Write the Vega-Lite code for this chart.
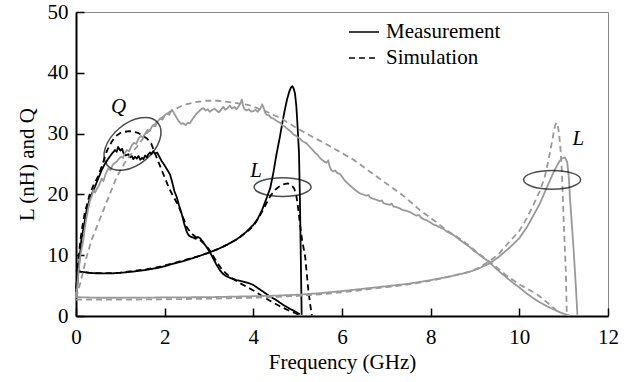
{
  "$schema": "https://vega.github.io/schema/vega-lite/v6.json",
  "autosize": "none",
  "padding": {"left": 76, "top": 12, "right": 33, "bottom": 66},
  "width": 532,
  "height": 304,
  "background": "white",
  "config": {
    "font": "Liberation Serif",
    "view": {"stroke": "#888888", "strokeWidth": 1},
    "axis": {
      "grid": false,
      "domainColor": "black",
      "domainWidth": 2,
      "tickColor": "black",
      "tickWidth": 1.5,
      "tickSize": -8,
      "labelFlush": false,
      "labelFont": "Liberation Serif",
      "labelFontSize": 21,
      "labelColor": "black",
      "titleFont": "Liberation Serif",
      "titleFontSize": 21,
      "titleFontWeight": "normal",
      "titleColor": "black"
    }
  },
  "datasets": {
    "curves": [
      {"c":"BQm","t":"Measurement","f":0.0,"v":4.0},
      {"c":"BQm","t":"Measurement","f":0.03,"v":5.0},
      {"c":"BQm","t":"Measurement","f":0.06,"v":8.0},
      {"c":"BQm","t":"Measurement","f":0.09,"v":10.0},
      {"c":"BQm","t":"Measurement","f":0.12,"v":12.5},
      {"c":"BQm","t":"Measurement","f":0.17,"v":14.5},
      {"c":"BQm","t":"Measurement","f":0.24,"v":17.4},
      {"c":"BQm","t":"Measurement","f":0.3,"v":19.0},
      {"c":"BQm","t":"Measurement","f":0.35,"v":20.0},
      {"c":"BQm","t":"Measurement","f":0.43,"v":21.3},
      {"c":"BQm","t":"Measurement","f":0.5,"v":22.6},
      {"c":"BQm","t":"Measurement","f":0.58,"v":24.0},
      {"c":"BQm","t":"Measurement","f":0.65,"v":25.0},
      {"c":"BQm","t":"Measurement","f":0.73,"v":25.9},
      {"c":"BQm","t":"Measurement","f":0.8,"v":26.6},
      {"c":"BQm","t":"Measurement","f":0.88,"v":27.3},
      {"c":"BQm","t":"Measurement","f":0.92,"v":27.0},
      {"c":"BQm","t":"Measurement","f":0.95,"v":27.8},
      {"c":"BQm","t":"Measurement","f":1.0,"v":27.2},
      {"c":"BQm","t":"Measurement","f":1.04,"v":27.5},
      {"c":"BQm","t":"Measurement","f":1.07,"v":26.8},
      {"c":"BQm","t":"Measurement","f":1.12,"v":26.4},
      {"c":"BQm","t":"Measurement","f":1.18,"v":26.6},
      {"c":"BQm","t":"Measurement","f":1.22,"v":26.1},
      {"c":"BQm","t":"Measurement","f":1.26,"v":26.3},
      {"c":"BQm","t":"Measurement","f":1.29,"v":25.8},
      {"c":"BQm","t":"Measurement","f":1.33,"v":26.2},
      {"c":"BQm","t":"Measurement","f":1.37,"v":25.9},
      {"c":"BQm","t":"Measurement","f":1.41,"v":26.3},
      {"c":"BQm","t":"Measurement","f":1.45,"v":25.7},
      {"c":"BQm","t":"Measurement","f":1.49,"v":26.0},
      {"c":"BQm","t":"Measurement","f":1.52,"v":25.8},
      {"c":"BQm","t":"Measurement","f":1.56,"v":26.4},
      {"c":"BQm","t":"Measurement","f":1.6,"v":26.1},
      {"c":"BQm","t":"Measurement","f":1.63,"v":26.6},
      {"c":"BQm","t":"Measurement","f":1.67,"v":26.9},
      {"c":"BQm","t":"Measurement","f":1.7,"v":26.6},
      {"c":"BQm","t":"Measurement","f":1.74,"v":27.1},
      {"c":"BQm","t":"Measurement","f":1.78,"v":26.7},
      {"c":"BQm","t":"Measurement","f":1.83,"v":26.9},
      {"c":"BQm","t":"Measurement","f":1.88,"v":26.2},
      {"c":"BQm","t":"Measurement","f":1.93,"v":25.5},
      {"c":"BQm","t":"Measurement","f":1.97,"v":25.1},
      {"c":"BQm","t":"Measurement","f":2.02,"v":24.5},
      {"c":"BQm","t":"Measurement","f":2.07,"v":23.9},
      {"c":"BQm","t":"Measurement","f":2.12,"v":23.3},
      {"c":"BQm","t":"Measurement","f":2.17,"v":22.0},
      {"c":"BQm","t":"Measurement","f":2.22,"v":20.5},
      {"c":"BQm","t":"Measurement","f":2.27,"v":19.6},
      {"c":"BQm","t":"Measurement","f":2.32,"v":18.3},
      {"c":"BQm","t":"Measurement","f":2.38,"v":16.9},
      {"c":"BQm","t":"Measurement","f":2.44,"v":15.2},
      {"c":"BQm","t":"Measurement","f":2.5,"v":13.8},
      {"c":"BQm","t":"Measurement","f":2.55,"v":13.2},
      {"c":"BQm","t":"Measurement","f":2.6,"v":13.0},
      {"c":"BQm","t":"Measurement","f":2.65,"v":12.9},
      {"c":"BQm","t":"Measurement","f":2.7,"v":12.7},
      {"c":"BQm","t":"Measurement","f":2.75,"v":13.0},
      {"c":"BQm","t":"Measurement","f":2.8,"v":12.8},
      {"c":"BQm","t":"Measurement","f":2.85,"v":12.3},
      {"c":"BQm","t":"Measurement","f":2.9,"v":11.8},
      {"c":"BQm","t":"Measurement","f":2.95,"v":11.3},
      {"c":"BQm","t":"Measurement","f":3.02,"v":10.5},
      {"c":"BQm","t":"Measurement","f":3.1,"v":9.4},
      {"c":"BQm","t":"Measurement","f":3.17,"v":8.4},
      {"c":"BQm","t":"Measurement","f":3.25,"v":7.5},
      {"c":"BQm","t":"Measurement","f":3.32,"v":6.9},
      {"c":"BQm","t":"Measurement","f":3.4,"v":6.5},
      {"c":"BQm","t":"Measurement","f":3.5,"v":6.2},
      {"c":"BQm","t":"Measurement","f":3.62,"v":5.9},
      {"c":"BQm","t":"Measurement","f":3.75,"v":5.7},
      {"c":"BQm","t":"Measurement","f":3.9,"v":5.4},
      {"c":"BQm","t":"Measurement","f":4.0,"v":5.1},
      {"c":"BQm","t":"Measurement","f":4.1,"v":4.6},
      {"c":"BQm","t":"Measurement","f":4.2,"v":4.1},
      {"c":"BQm","t":"Measurement","f":4.3,"v":3.6},
      {"c":"BQm","t":"Measurement","f":4.4,"v":3.1},
      {"c":"BQm","t":"Measurement","f":4.5,"v":2.7},
      {"c":"BQm","t":"Measurement","f":4.6,"v":2.2},
      {"c":"BQm","t":"Measurement","f":4.7,"v":1.7},
      {"c":"BQm","t":"Measurement","f":4.8,"v":1.3},
      {"c":"BQm","t":"Measurement","f":4.9,"v":0.9},
      {"c":"BQm","t":"Measurement","f":5.0,"v":0.5},
      {"c":"BQm","t":"Measurement","f":5.05,"v":0.3},

      {"c":"BQs","t":"Simulation","f":0.0,"v":4.5},
      {"c":"BQs","t":"Simulation","f":0.05,"v":9.0},
      {"c":"BQs","t":"Simulation","f":0.1,"v":12.5},
      {"c":"BQs","t":"Simulation","f":0.15,"v":15.0},
      {"c":"BQs","t":"Simulation","f":0.2,"v":17.0},
      {"c":"BQs","t":"Simulation","f":0.3,"v":19.8},
      {"c":"BQs","t":"Simulation","f":0.4,"v":21.6},
      {"c":"BQs","t":"Simulation","f":0.5,"v":23.0},
      {"c":"BQs","t":"Simulation","f":0.6,"v":25.0},
      {"c":"BQs","t":"Simulation","f":0.7,"v":27.2},
      {"c":"BQs","t":"Simulation","f":0.8,"v":28.6},
      {"c":"BQs","t":"Simulation","f":0.9,"v":29.6},
      {"c":"BQs","t":"Simulation","f":1.0,"v":30.1},
      {"c":"BQs","t":"Simulation","f":1.1,"v":30.3},
      {"c":"BQs","t":"Simulation","f":1.2,"v":30.4},
      {"c":"BQs","t":"Simulation","f":1.3,"v":30.3},
      {"c":"BQs","t":"Simulation","f":1.4,"v":30.1},
      {"c":"BQs","t":"Simulation","f":1.5,"v":29.7},
      {"c":"BQs","t":"Simulation","f":1.6,"v":29.2},
      {"c":"BQs","t":"Simulation","f":1.7,"v":28.3},
      {"c":"BQs","t":"Simulation","f":1.8,"v":26.4},
      {"c":"BQs","t":"Simulation","f":1.9,"v":24.6},
      {"c":"BQs","t":"Simulation","f":2.0,"v":22.8},
      {"c":"BQs","t":"Simulation","f":2.1,"v":21.0},
      {"c":"BQs","t":"Simulation","f":2.2,"v":19.6},
      {"c":"BQs","t":"Simulation","f":2.3,"v":18.3},
      {"c":"BQs","t":"Simulation","f":2.4,"v":16.5},
      {"c":"BQs","t":"Simulation","f":2.5,"v":14.6},
      {"c":"BQs","t":"Simulation","f":2.6,"v":13.6},
      {"c":"BQs","t":"Simulation","f":2.7,"v":13.0},
      {"c":"BQs","t":"Simulation","f":2.8,"v":12.5},
      {"c":"BQs","t":"Simulation","f":2.9,"v":11.8},
      {"c":"BQs","t":"Simulation","f":3.0,"v":11.0},
      {"c":"BQs","t":"Simulation","f":3.1,"v":9.8},
      {"c":"BQs","t":"Simulation","f":3.2,"v":8.6},
      {"c":"BQs","t":"Simulation","f":3.3,"v":7.6},
      {"c":"BQs","t":"Simulation","f":3.4,"v":6.9},
      {"c":"BQs","t":"Simulation","f":3.5,"v":6.3},
      {"c":"BQs","t":"Simulation","f":3.7,"v":5.4},
      {"c":"BQs","t":"Simulation","f":3.85,"v":4.8},
      {"c":"BQs","t":"Simulation","f":4.0,"v":4.2},
      {"c":"BQs","t":"Simulation","f":4.2,"v":3.3},
      {"c":"BQs","t":"Simulation","f":4.4,"v":2.4},
      {"c":"BQs","t":"Simulation","f":4.6,"v":1.6},
      {"c":"BQs","t":"Simulation","f":4.8,"v":0.9},
      {"c":"BQs","t":"Simulation","f":5.0,"v":0.3},
      {"c":"BQs","t":"Simulation","f":5.05,"v":0.2},

      {"c":"BLm","t":"Measurement","f":0.0,"v":7.6},
      {"c":"BLm","t":"Measurement","f":0.1,"v":7.3},
      {"c":"BLm","t":"Measurement","f":0.3,"v":7.1},
      {"c":"BLm","t":"Measurement","f":0.5,"v":7.0},
      {"c":"BLm","t":"Measurement","f":0.77,"v":7.0},
      {"c":"BLm","t":"Measurement","f":1.0,"v":7.1},
      {"c":"BLm","t":"Measurement","f":1.29,"v":7.3},
      {"c":"BLm","t":"Measurement","f":1.6,"v":7.6},
      {"c":"BLm","t":"Measurement","f":1.9,"v":8.0},
      {"c":"BLm","t":"Measurement","f":2.2,"v":8.6},
      {"c":"BLm","t":"Measurement","f":2.5,"v":9.2},
      {"c":"BLm","t":"Measurement","f":2.75,"v":9.8},
      {"c":"BLm","t":"Measurement","f":2.95,"v":10.3},
      {"c":"BLm","t":"Measurement","f":3.2,"v":11.0},
      {"c":"BLm","t":"Measurement","f":3.4,"v":11.7},
      {"c":"BLm","t":"Measurement","f":3.6,"v":12.5},
      {"c":"BLm","t":"Measurement","f":3.7,"v":13.0},
      {"c":"BLm","t":"Measurement","f":3.85,"v":13.9},
      {"c":"BLm","t":"Measurement","f":4.0,"v":15.0},
      {"c":"BLm","t":"Measurement","f":4.1,"v":16.0},
      {"c":"BLm","t":"Measurement","f":4.2,"v":17.5},
      {"c":"BLm","t":"Measurement","f":4.3,"v":19.4},
      {"c":"BLm","t":"Measurement","f":4.38,"v":21.0},
      {"c":"BLm","t":"Measurement","f":4.45,"v":23.5},
      {"c":"BLm","t":"Measurement","f":4.52,"v":26.5},
      {"c":"BLm","t":"Measurement","f":4.6,"v":29.5},
      {"c":"BLm","t":"Measurement","f":4.66,"v":32.0},
      {"c":"BLm","t":"Measurement","f":4.71,"v":33.9},
      {"c":"BLm","t":"Measurement","f":4.76,"v":35.6},
      {"c":"BLm","t":"Measurement","f":4.81,"v":36.9},
      {"c":"BLm","t":"Measurement","f":4.85,"v":37.6},
      {"c":"BLm","t":"Measurement","f":4.88,"v":37.8},
      {"c":"BLm","t":"Measurement","f":4.91,"v":37.4},
      {"c":"BLm","t":"Measurement","f":4.94,"v":36.6},
      {"c":"BLm","t":"Measurement","f":4.97,"v":34.5},
      {"c":"BLm","t":"Measurement","f":4.99,"v":32.2},
      {"c":"BLm","t":"Measurement","f":5.01,"v":29.5},
      {"c":"BLm","t":"Measurement","f":5.03,"v":26.8},
      {"c":"BLm","t":"Measurement","f":5.05,"v":19.6},
      {"c":"BLm","t":"Measurement","f":5.07,"v":10.0},
      {"c":"BLm","t":"Measurement","f":5.09,"v":0.2},

      {"c":"BLs","t":"Simulation","f":0.0,"v":7.5},
      {"c":"BLs","t":"Simulation","f":0.1,"v":7.3},
      {"c":"BLs","t":"Simulation","f":0.3,"v":7.1},
      {"c":"BLs","t":"Simulation","f":0.5,"v":7.05},
      {"c":"BLs","t":"Simulation","f":0.77,"v":7.05},
      {"c":"BLs","t":"Simulation","f":1.0,"v":7.15},
      {"c":"BLs","t":"Simulation","f":1.29,"v":7.4},
      {"c":"BLs","t":"Simulation","f":1.6,"v":7.7},
      {"c":"BLs","t":"Simulation","f":1.9,"v":8.1},
      {"c":"BLs","t":"Simulation","f":2.2,"v":8.7},
      {"c":"BLs","t":"Simulation","f":2.5,"v":9.3},
      {"c":"BLs","t":"Simulation","f":2.75,"v":9.8},
      {"c":"BLs","t":"Simulation","f":2.95,"v":10.3},
      {"c":"BLs","t":"Simulation","f":3.2,"v":11.0},
      {"c":"BLs","t":"Simulation","f":3.4,"v":11.7},
      {"c":"BLs","t":"Simulation","f":3.6,"v":12.5},
      {"c":"BLs","t":"Simulation","f":3.7,"v":13.0},
      {"c":"BLs","t":"Simulation","f":3.85,"v":13.8},
      {"c":"BLs","t":"Simulation","f":4.0,"v":14.8},
      {"c":"BLs","t":"Simulation","f":4.1,"v":15.9},
      {"c":"BLs","t":"Simulation","f":4.2,"v":17.2},
      {"c":"BLs","t":"Simulation","f":4.3,"v":18.6},
      {"c":"BLs","t":"Simulation","f":4.4,"v":19.9},
      {"c":"BLs","t":"Simulation","f":4.5,"v":20.8},
      {"c":"BLs","t":"Simulation","f":4.6,"v":21.4},
      {"c":"BLs","t":"Simulation","f":4.7,"v":21.7},
      {"c":"BLs","t":"Simulation","f":4.78,"v":21.8},
      {"c":"BLs","t":"Simulation","f":4.85,"v":21.6},
      {"c":"BLs","t":"Simulation","f":4.92,"v":21.0},
      {"c":"BLs","t":"Simulation","f":4.97,"v":19.8},
      {"c":"BLs","t":"Simulation","f":5.01,"v":17.8},
      {"c":"BLs","t":"Simulation","f":5.05,"v":15.2},
      {"c":"BLs","t":"Simulation","f":5.1,"v":12.5},
      {"c":"BLs","t":"Simulation","f":5.17,"v":9.7},
      {"c":"BLs","t":"Simulation","f":5.24,"v":4.3},
      {"c":"BLs","t":"Simulation","f":5.28,"v":2.0},
      {"c":"BLs","t":"Simulation","f":5.32,"v":0.1},

      {"c":"GQm","t":"Measurement","f":0.0,"v":3.0},
      {"c":"GQm","t":"Measurement","f":0.03,"v":5.0},
      {"c":"GQm","t":"Measurement","f":0.06,"v":7.5},
      {"c":"GQm","t":"Measurement","f":0.1,"v":10.0},
      {"c":"GQm","t":"Measurement","f":0.165,"v":12.5},
      {"c":"GQm","t":"Measurement","f":0.2,"v":14.5},
      {"c":"GQm","t":"Measurement","f":0.24,"v":16.3},
      {"c":"GQm","t":"Measurement","f":0.28,"v":17.8},
      {"c":"GQm","t":"Measurement","f":0.32,"v":19.1},
      {"c":"GQm","t":"Measurement","f":0.36,"v":19.8},
      {"c":"GQm","t":"Measurement","f":0.39,"v":20.7},
      {"c":"GQm","t":"Measurement","f":0.43,"v":20.3},
      {"c":"GQm","t":"Measurement","f":0.47,"v":20.9},
      {"c":"GQm","t":"Measurement","f":0.52,"v":21.5},
      {"c":"GQm","t":"Measurement","f":0.58,"v":22.6},
      {"c":"GQm","t":"Measurement","f":0.62,"v":22.2},
      {"c":"GQm","t":"Measurement","f":0.67,"v":23.4},
      {"c":"GQm","t":"Measurement","f":0.73,"v":24.3},
      {"c":"GQm","t":"Measurement","f":0.78,"v":24.0},
      {"c":"GQm","t":"Measurement","f":0.83,"v":24.9},
      {"c":"GQm","t":"Measurement","f":0.88,"v":25.2},
      {"c":"GQm","t":"Measurement","f":0.92,"v":25.4},
      {"c":"GQm","t":"Measurement","f":0.97,"v":25.9},
      {"c":"GQm","t":"Measurement","f":1.02,"v":26.2},
      {"c":"GQm","t":"Measurement","f":1.06,"v":26.0},
      {"c":"GQm","t":"Measurement","f":1.1,"v":26.8},
      {"c":"GQm","t":"Measurement","f":1.15,"v":27.3},
      {"c":"GQm","t":"Measurement","f":1.2,"v":27.1},
      {"c":"GQm","t":"Measurement","f":1.26,"v":28.1},
      {"c":"GQm","t":"Measurement","f":1.31,"v":28.5},
      {"c":"GQm","t":"Measurement","f":1.36,"v":28.3},
      {"c":"GQm","t":"Measurement","f":1.41,"v":29.2},
      {"c":"GQm","t":"Measurement","f":1.46,"v":29.6},
      {"c":"GQm","t":"Measurement","f":1.51,"v":29.4},
      {"c":"GQm","t":"Measurement","f":1.56,"v":30.0},
      {"c":"GQm","t":"Measurement","f":1.61,"v":30.6},
      {"c":"GQm","t":"Measurement","f":1.66,"v":30.4},
      {"c":"GQm","t":"Measurement","f":1.7,"v":31.0},
      {"c":"GQm","t":"Measurement","f":1.74,"v":31.4},
      {"c":"GQm","t":"Measurement","f":1.79,"v":31.2},
      {"c":"GQm","t":"Measurement","f":1.84,"v":32.0},
      {"c":"GQm","t":"Measurement","f":1.9,"v":32.5},
      {"c":"GQm","t":"Measurement","f":1.95,"v":32.3},
      {"c":"GQm","t":"Measurement","f":2.0,"v":33.0},
      {"c":"GQm","t":"Measurement","f":2.05,"v":33.3},
      {"c":"GQm","t":"Measurement","f":2.1,"v":33.1},
      {"c":"GQm","t":"Measurement","f":2.16,"v":33.9},
      {"c":"GQm","t":"Measurement","f":2.2,"v":33.5},
      {"c":"GQm","t":"Measurement","f":2.24,"v":33.0},
      {"c":"GQm","t":"Measurement","f":2.27,"v":32.6},
      {"c":"GQm","t":"Measurement","f":2.32,"v":32.0},
      {"c":"GQm","t":"Measurement","f":2.37,"v":31.6},
      {"c":"GQm","t":"Measurement","f":2.42,"v":31.7},
      {"c":"GQm","t":"Measurement","f":2.47,"v":31.4},
      {"c":"GQm","t":"Measurement","f":2.52,"v":31.8},
      {"c":"GQm","t":"Measurement","f":2.57,"v":31.7},
      {"c":"GQm","t":"Measurement","f":2.62,"v":32.3},
      {"c":"GQm","t":"Measurement","f":2.67,"v":32.8},
      {"c":"GQm","t":"Measurement","f":2.72,"v":33.3},
      {"c":"GQm","t":"Measurement","f":2.77,"v":33.6},
      {"c":"GQm","t":"Measurement","f":2.82,"v":34.0},
      {"c":"GQm","t":"Measurement","f":2.87,"v":34.2},
      {"c":"GQm","t":"Measurement","f":2.92,"v":33.8},
      {"c":"GQm","t":"Measurement","f":2.97,"v":34.0},
      {"c":"GQm","t":"Measurement","f":3.02,"v":33.6},
      {"c":"GQm","t":"Measurement","f":3.07,"v":33.9},
      {"c":"GQm","t":"Measurement","f":3.12,"v":34.1},
      {"c":"GQm","t":"Measurement","f":3.17,"v":33.8},
      {"c":"GQm","t":"Measurement","f":3.22,"v":33.5},
      {"c":"GQm","t":"Measurement","f":3.27,"v":33.9},
      {"c":"GQm","t":"Measurement","f":3.32,"v":34.4},
      {"c":"GQm","t":"Measurement","f":3.37,"v":33.9},
      {"c":"GQm","t":"Measurement","f":3.42,"v":34.2},
      {"c":"GQm","t":"Measurement","f":3.47,"v":34.6},
      {"c":"GQm","t":"Measurement","f":3.52,"v":34.1},
      {"c":"GQm","t":"Measurement","f":3.57,"v":34.4},
      {"c":"GQm","t":"Measurement","f":3.62,"v":34.0},
      {"c":"GQm","t":"Measurement","f":3.67,"v":34.5},
      {"c":"GQm","t":"Measurement","f":3.71,"v":35.0},
      {"c":"GQm","t":"Measurement","f":3.74,"v":35.6},
      {"c":"GQm","t":"Measurement","f":3.77,"v":34.6},
      {"c":"GQm","t":"Measurement","f":3.8,"v":34.0},
      {"c":"GQm","t":"Measurement","f":3.85,"v":33.8},
      {"c":"GQm","t":"Measurement","f":3.9,"v":34.0},
      {"c":"GQm","t":"Measurement","f":3.95,"v":33.6},
      {"c":"GQm","t":"Measurement","f":4.0,"v":33.7},
      {"c":"GQm","t":"Measurement","f":4.05,"v":33.9},
      {"c":"GQm","t":"Measurement","f":4.1,"v":33.6},
      {"c":"GQm","t":"Measurement","f":4.15,"v":34.0},
      {"c":"GQm","t":"Measurement","f":4.2,"v":34.8},
      {"c":"GQm","t":"Measurement","f":4.23,"v":34.3},
      {"c":"GQm","t":"Measurement","f":4.27,"v":33.4},
      {"c":"GQm","t":"Measurement","f":4.3,"v":33.1},
      {"c":"GQm","t":"Measurement","f":4.35,"v":33.0},
      {"c":"GQm","t":"Measurement","f":4.4,"v":32.6},
      {"c":"GQm","t":"Measurement","f":4.45,"v":32.5},
      {"c":"GQm","t":"Measurement","f":4.5,"v":32.2},
      {"c":"GQm","t":"Measurement","f":4.55,"v":32.0},
      {"c":"GQm","t":"Measurement","f":4.6,"v":31.8},
      {"c":"GQm","t":"Measurement","f":4.65,"v":31.4},
      {"c":"GQm","t":"Measurement","f":4.7,"v":31.2},
      {"c":"GQm","t":"Measurement","f":4.75,"v":30.9},
      {"c":"GQm","t":"Measurement","f":4.8,"v":30.6},
      {"c":"GQm","t":"Measurement","f":4.85,"v":30.3},
      {"c":"GQm","t":"Measurement","f":4.9,"v":29.9},
      {"c":"GQm","t":"Measurement","f":4.95,"v":29.7},
      {"c":"GQm","t":"Measurement","f":5.0,"v":29.4},
      {"c":"GQm","t":"Measurement","f":5.05,"v":29.2},
      {"c":"GQm","t":"Measurement","f":5.1,"v":28.8},
      {"c":"GQm","t":"Measurement","f":5.15,"v":28.6},
      {"c":"GQm","t":"Measurement","f":5.2,"v":28.4},
      {"c":"GQm","t":"Measurement","f":5.25,"v":28.0},
      {"c":"GQm","t":"Measurement","f":5.3,"v":27.6},
      {"c":"GQm","t":"Measurement","f":5.35,"v":27.2},
      {"c":"GQm","t":"Measurement","f":5.4,"v":26.8},
      {"c":"GQm","t":"Measurement","f":5.45,"v":26.5},
      {"c":"GQm","t":"Measurement","f":5.5,"v":26.0},
      {"c":"GQm","t":"Measurement","f":5.55,"v":25.7},
      {"c":"GQm","t":"Measurement","f":5.6,"v":25.4},
      {"c":"GQm","t":"Measurement","f":5.65,"v":25.2},
      {"c":"GQm","t":"Measurement","f":5.69,"v":25.6},
      {"c":"GQm","t":"Measurement","f":5.72,"v":24.6},
      {"c":"GQm","t":"Measurement","f":5.76,"v":24.0},
      {"c":"GQm","t":"Measurement","f":5.8,"v":23.8},
      {"c":"GQm","t":"Measurement","f":5.85,"v":23.9},
      {"c":"GQm","t":"Measurement","f":5.9,"v":23.5},
      {"c":"GQm","t":"Measurement","f":5.95,"v":23.4},
      {"c":"GQm","t":"Measurement","f":6.0,"v":22.9},
      {"c":"GQm","t":"Measurement","f":6.05,"v":22.4},
      {"c":"GQm","t":"Measurement","f":6.1,"v":22.0},
      {"c":"GQm","t":"Measurement","f":6.18,"v":21.5},
      {"c":"GQm","t":"Measurement","f":6.25,"v":21.0},
      {"c":"GQm","t":"Measurement","f":6.32,"v":20.6},
      {"c":"GQm","t":"Measurement","f":6.4,"v":20.2},
      {"c":"GQm","t":"Measurement","f":6.47,"v":20.0},
      {"c":"GQm","t":"Measurement","f":6.55,"v":19.8},
      {"c":"GQm","t":"Measurement","f":6.6,"v":19.9},
      {"c":"GQm","t":"Measurement","f":6.63,"v":19.5},
      {"c":"GQm","t":"Measurement","f":6.7,"v":19.3},
      {"c":"GQm","t":"Measurement","f":6.78,"v":19.1},
      {"c":"GQm","t":"Measurement","f":6.85,"v":18.9},
      {"c":"GQm","t":"Measurement","f":6.9,"v":19.0},
      {"c":"GQm","t":"Measurement","f":6.93,"v":18.6},
      {"c":"GQm","t":"Measurement","f":7.0,"v":18.4},
      {"c":"GQm","t":"Measurement","f":7.08,"v":18.3},
      {"c":"GQm","t":"Measurement","f":7.12,"v":18.5},
      {"c":"GQm","t":"Measurement","f":7.16,"v":18.0},
      {"c":"GQm","t":"Measurement","f":7.23,"v":17.9},
      {"c":"GQm","t":"Measurement","f":7.3,"v":17.7},
      {"c":"GQm","t":"Measurement","f":7.38,"v":17.4},
      {"c":"GQm","t":"Measurement","f":7.45,"v":17.3},
      {"c":"GQm","t":"Measurement","f":7.53,"v":17.1},
      {"c":"GQm","t":"Measurement","f":7.6,"v":16.8},
      {"c":"GQm","t":"Measurement","f":7.68,"v":16.5},
      {"c":"GQm","t":"Measurement","f":7.74,"v":16.6},
      {"c":"GQm","t":"Measurement","f":7.78,"v":16.2},
      {"c":"GQm","t":"Measurement","f":7.85,"v":15.9},
      {"c":"GQm","t":"Measurement","f":7.92,"v":15.7},
      {"c":"GQm","t":"Measurement","f":7.99,"v":15.4},
      {"c":"GQm","t":"Measurement","f":8.05,"v":15.1},
      {"c":"GQm","t":"Measurement","f":8.12,"v":14.9},
      {"c":"GQm","t":"Measurement","f":8.2,"v":14.6},
      {"c":"GQm","t":"Measurement","f":8.29,"v":14.3},
      {"c":"GQm","t":"Measurement","f":8.36,"v":13.9},
      {"c":"GQm","t":"Measurement","f":8.44,"v":13.6},
      {"c":"GQm","t":"Measurement","f":8.52,"v":13.3},
      {"c":"GQm","t":"Measurement","f":8.59,"v":12.9},
      {"c":"GQm","t":"Measurement","f":8.66,"v":12.5},
      {"c":"GQm","t":"Measurement","f":8.74,"v":12.1},
      {"c":"GQm","t":"Measurement","f":8.81,"v":11.7},
      {"c":"GQm","t":"Measurement","f":8.89,"v":11.3},
      {"c":"GQm","t":"Measurement","f":8.96,"v":10.8},
      {"c":"GQm","t":"Measurement","f":9.04,"v":10.4},
      {"c":"GQm","t":"Measurement","f":9.11,"v":10.0},
      {"c":"GQm","t":"Measurement","f":9.26,"v":9.2},
      {"c":"GQm","t":"Measurement","f":9.4,"v":8.3},
      {"c":"GQm","t":"Measurement","f":9.55,"v":7.3},
      {"c":"GQm","t":"Measurement","f":9.7,"v":6.4},
      {"c":"GQm","t":"Measurement","f":9.85,"v":5.5},
      {"c":"GQm","t":"Measurement","f":10.0,"v":4.7},
      {"c":"GQm","t":"Measurement","f":10.15,"v":3.8},
      {"c":"GQm","t":"Measurement","f":10.3,"v":3.0},
      {"c":"GQm","t":"Measurement","f":10.45,"v":2.3},
      {"c":"GQm","t":"Measurement","f":10.6,"v":1.7},
      {"c":"GQm","t":"Measurement","f":10.77,"v":1.1},
      {"c":"GQm","t":"Measurement","f":10.95,"v":0.5},
      {"c":"GQm","t":"Measurement","f":11.12,"v":0.1},

      {"c":"GQs","t":"Simulation","f":0.0,"v":3.0},
      {"c":"GQs","t":"Simulation","f":0.1,"v":5.5},
      {"c":"GQs","t":"Simulation","f":0.24,"v":9.75},
      {"c":"GQs","t":"Simulation","f":0.35,"v":12.5},
      {"c":"GQs","t":"Simulation","f":0.47,"v":14.7},
      {"c":"GQs","t":"Simulation","f":0.62,"v":17.4},
      {"c":"GQs","t":"Simulation","f":0.77,"v":20.2},
      {"c":"GQs","t":"Simulation","f":0.92,"v":22.9},
      {"c":"GQs","t":"Simulation","f":1.14,"v":25.7},
      {"c":"GQs","t":"Simulation","f":1.37,"v":27.8},
      {"c":"GQs","t":"Simulation","f":1.59,"v":30.0},
      {"c":"GQs","t":"Simulation","f":1.86,"v":32.2},
      {"c":"GQs","t":"Simulation","f":2.12,"v":33.6},
      {"c":"GQs","t":"Simulation","f":2.42,"v":34.7},
      {"c":"GQs","t":"Simulation","f":2.72,"v":35.2},
      {"c":"GQs","t":"Simulation","f":2.95,"v":35.4},
      {"c":"GQs","t":"Simulation","f":3.2,"v":35.4},
      {"c":"GQs","t":"Simulation","f":3.55,"v":35.1},
      {"c":"GQs","t":"Simulation","f":3.9,"v":34.7},
      {"c":"GQs","t":"Simulation","f":4.3,"v":33.6},
      {"c":"GQs","t":"Simulation","f":4.65,"v":32.4},
      {"c":"GQs","t":"Simulation","f":4.98,"v":30.9},
      {"c":"GQs","t":"Simulation","f":5.3,"v":29.6},
      {"c":"GQs","t":"Simulation","f":5.66,"v":28.2},
      {"c":"GQs","t":"Simulation","f":6.0,"v":26.8},
      {"c":"GQs","t":"Simulation","f":6.26,"v":25.7},
      {"c":"GQs","t":"Simulation","f":6.6,"v":23.9},
      {"c":"GQs","t":"Simulation","f":7.0,"v":21.8},
      {"c":"GQs","t":"Simulation","f":7.4,"v":19.7},
      {"c":"GQs","t":"Simulation","f":7.76,"v":17.4},
      {"c":"GQs","t":"Simulation","f":8.1,"v":15.6},
      {"c":"GQs","t":"Simulation","f":8.36,"v":14.1},
      {"c":"GQs","t":"Simulation","f":8.6,"v":13.0},
      {"c":"GQs","t":"Simulation","f":8.81,"v":11.9},
      {"c":"GQs","t":"Simulation","f":9.11,"v":10.1},
      {"c":"GQs","t":"Simulation","f":9.41,"v":8.5},
      {"c":"GQs","t":"Simulation","f":9.7,"v":6.7},
      {"c":"GQs","t":"Simulation","f":10.0,"v":5.2},
      {"c":"GQs","t":"Simulation","f":10.39,"v":3.6},
      {"c":"GQs","t":"Simulation","f":10.7,"v":1.8},
      {"c":"GQs","t":"Simulation","f":10.92,"v":0.4},

      {"c":"GLm","t":"Measurement","f":0.0,"v":3.1},
      {"c":"GLm","t":"Measurement","f":0.5,"v":3.0},
      {"c":"GLm","t":"Measurement","f":1.0,"v":3.0},
      {"c":"GLm","t":"Measurement","f":2.0,"v":3.05},
      {"c":"GLm","t":"Measurement","f":3.0,"v":3.1},
      {"c":"GLm","t":"Measurement","f":4.0,"v":3.25},
      {"c":"GLm","t":"Measurement","f":4.5,"v":3.35},
      {"c":"GLm","t":"Measurement","f":5.0,"v":3.5},
      {"c":"GLm","t":"Measurement","f":5.5,"v":3.75},
      {"c":"GLm","t":"Measurement","f":6.0,"v":4.1},
      {"c":"GLm","t":"Measurement","f":6.5,"v":4.5},
      {"c":"GLm","t":"Measurement","f":7.0,"v":4.9},
      {"c":"GLm","t":"Measurement","f":7.5,"v":5.3},
      {"c":"GLm","t":"Measurement","f":8.0,"v":5.9},
      {"c":"GLm","t":"Measurement","f":8.5,"v":6.6},
      {"c":"GLm","t":"Measurement","f":8.89,"v":7.3},
      {"c":"GLm","t":"Measurement","f":9.11,"v":7.9},
      {"c":"GLm","t":"Measurement","f":9.34,"v":8.7},
      {"c":"GLm","t":"Measurement","f":9.55,"v":9.8},
      {"c":"GLm","t":"Measurement","f":9.79,"v":11.3},
      {"c":"GLm","t":"Measurement","f":10.0,"v":12.8},
      {"c":"GLm","t":"Measurement","f":10.17,"v":14.6},
      {"c":"GLm","t":"Measurement","f":10.3,"v":16.3},
      {"c":"GLm","t":"Measurement","f":10.47,"v":18.6},
      {"c":"GLm","t":"Measurement","f":10.6,"v":20.8},
      {"c":"GLm","t":"Measurement","f":10.69,"v":22.3},
      {"c":"GLm","t":"Measurement","f":10.77,"v":23.6},
      {"c":"GLm","t":"Measurement","f":10.84,"v":24.6},
      {"c":"GLm","t":"Measurement","f":10.9,"v":25.4},
      {"c":"GLm","t":"Measurement","f":10.96,"v":25.9},
      {"c":"GLm","t":"Measurement","f":11.03,"v":26.1},
      {"c":"GLm","t":"Measurement","f":11.08,"v":25.3},
      {"c":"GLm","t":"Measurement","f":11.12,"v":22.5},
      {"c":"GLm","t":"Measurement","f":11.14,"v":19.6},
      {"c":"GLm","t":"Measurement","f":11.18,"v":15.5},
      {"c":"GLm","t":"Measurement","f":11.22,"v":11.4},
      {"c":"GLm","t":"Measurement","f":11.27,"v":5.5},
      {"c":"GLm","t":"Measurement","f":11.31,"v":0.2},

      {"c":"GLs","t":"Simulation","f":0.0,"v":2.7},
      {"c":"GLs","t":"Simulation","f":1.0,"v":2.7},
      {"c":"GLs","t":"Simulation","f":2.0,"v":2.75},
      {"c":"GLs","t":"Simulation","f":3.0,"v":2.85},
      {"c":"GLs","t":"Simulation","f":4.0,"v":3.0},
      {"c":"GLs","t":"Simulation","f":5.0,"v":3.3},
      {"c":"GLs","t":"Simulation","f":5.5,"v":3.55},
      {"c":"GLs","t":"Simulation","f":6.0,"v":3.9},
      {"c":"GLs","t":"Simulation","f":6.5,"v":4.3},
      {"c":"GLs","t":"Simulation","f":7.0,"v":4.75},
      {"c":"GLs","t":"Simulation","f":7.5,"v":5.2},
      {"c":"GLs","t":"Simulation","f":8.0,"v":5.8},
      {"c":"GLs","t":"Simulation","f":8.5,"v":6.6},
      {"c":"GLs","t":"Simulation","f":8.89,"v":7.3},
      {"c":"GLs","t":"Simulation","f":9.11,"v":8.0},
      {"c":"GLs","t":"Simulation","f":9.34,"v":9.1},
      {"c":"GLs","t":"Simulation","f":9.55,"v":10.3},
      {"c":"GLs","t":"Simulation","f":9.79,"v":12.3},
      {"c":"GLs","t":"Simulation","f":10.0,"v":14.0},
      {"c":"GLs","t":"Simulation","f":10.17,"v":16.1},
      {"c":"GLs","t":"Simulation","f":10.3,"v":18.0},
      {"c":"GLs","t":"Simulation","f":10.47,"v":20.7},
      {"c":"GLs","t":"Simulation","f":10.57,"v":22.8},
      {"c":"GLs","t":"Simulation","f":10.65,"v":25.4},
      {"c":"GLs","t":"Simulation","f":10.72,"v":28.0},
      {"c":"GLs","t":"Simulation","f":10.77,"v":30.0},
      {"c":"GLs","t":"Simulation","f":10.81,"v":31.4},
      {"c":"GLs","t":"Simulation","f":10.84,"v":31.8},
      {"c":"GLs","t":"Simulation","f":10.87,"v":31.2},
      {"c":"GLs","t":"Simulation","f":10.9,"v":29.8},
      {"c":"GLs","t":"Simulation","f":10.93,"v":27.3},
      {"c":"GLs","t":"Simulation","f":10.96,"v":23.8},
      {"c":"GLs","t":"Simulation","f":11.0,"v":15.8},
      {"c":"GLs","t":"Simulation","f":11.03,"v":10.5},
      {"c":"GLs","t":"Simulation","f":11.05,"v":7.0},
      {"c":"GLs","t":"Simulation","f":11.07,"v":0.3}
    ]
  },
  "layer": [
    {
      "data": {"name": "curves"},
      "mark": {"type": "line", "strokeCap": "butt", "strokeJoin": "round"},
      "encoding": {
        "x": {"field": "f", "type": "quantitative", "scale": {"domain": [0, 12], "nice": false, "zero": false},
              "axis": {"values": [0, 2, 4, 6, 8, 10, 12], "title": "Frequency (GHz)", "labelPadding": 18, "titlePadding": 4}},
        "y": {"field": "v", "type": "quantitative", "scale": {"domain": [0, 50], "nice": false},
              "axis": {"values": [0, 10, 20, 30, 40, 50], "title": "L (nH) and Q", "labelPadding": 16, "titlePadding": 10}},
        "detail": {"field": "c"},
        "color": {"field": "c", "type": "nominal", "legend": null,
                  "scale": {"domain": ["BQm","BQs","BLm","BLs","GQm","GQs","GLm","GLs"],
                            "range": ["#000000","#000000","#000000","#000000","#999999","#999999","#999999","#999999"]}},
        "strokeWidth": {"field": "c", "type": "nominal", "legend": null,
                  "scale": {"domain": ["BQm","BQs","BLm","BLs","GQm","GQs","GLm","GLs"],
                            "range": [1.8,1.8,1.8,1.8,1.5,1.5,1.5,1.5]}},
        "strokeDash": {"field": "t", "type": "nominal",
                  "scale": {"domain": ["Measurement", "Simulation"], "range": [[1, 0], [6, 4]]},
                  "legend": {"title": null, "orient": "none", "legendX": 272, "legendY": 4,
                             "symbolType": "stroke", "symbolStrokeColor": "black", "symbolStrokeWidth": 1.5,
                             "symbolSize": 900, "labelFont": "Liberation Serif", "labelFontSize": 21,
                             "labelColor": "black", "labelOffset": 6, "rowPadding": -5}}
      }
    },
    {
      "data": {"values": [{"f": 1.275, "v": 28.3}]},
      "mark": {"type": "point", "filled": false, "stroke": "black", "strokeWidth": 1.5,
               "shape": "M1,0 C1,0.3424 0.5523,0.62 0,0.62 C-0.5523,0.62 -1,0.3424 -1,0 C-1,-0.3424 -0.5523,-0.62 0,-0.62 C0.5523,-0.62 1,-0.3424 1,0 Z"},
      "encoding": {
        "x": {"field": "f", "type": "quantitative"},
        "y": {"field": "v", "type": "quantitative"},
        "size": {"value": 4356},
        "angle": {"value": 320}
      }
    },
    {
      "data": {"values": [{"f": 4.66, "v": 21.2}, {"f": 10.74, "v": 22.4}]},
      "mark": {"type": "point", "filled": false, "stroke": "black", "strokeWidth": 1.5,
               "shape": "M1,0 C1,0.1823 0.5523,0.33 0,0.33 C-0.5523,0.33 -1,0.1823 -1,0 C-1,-0.1823 -0.5523,-0.33 0,-0.33 C0.5523,-0.33 1,-0.1823 1,0 Z"},
      "encoding": {
        "x": {"field": "f", "type": "quantitative"},
        "y": {"field": "v", "type": "quantitative"},
        "size": {"value": 3249}
      }
    },
    {
      "data": {"values": [{"f": 0.96, "v": 34.3, "label": "Q"}, {"f": 4.06, "v": 23.8, "label": "L"}, {"f": 11.33, "v": 29.1, "label": "L"}]},
      "mark": {"type": "text", "font": "Liberation Serif", "fontStyle": "italic", "fontSize": 21, "align": "center", "baseline": "middle", "color": "black"},
      "encoding": {
        "x": {"field": "f", "type": "quantitative"},
        "y": {"field": "v", "type": "quantitative"},
        "text": {"field": "label"}
      }
    }
  ]
}
